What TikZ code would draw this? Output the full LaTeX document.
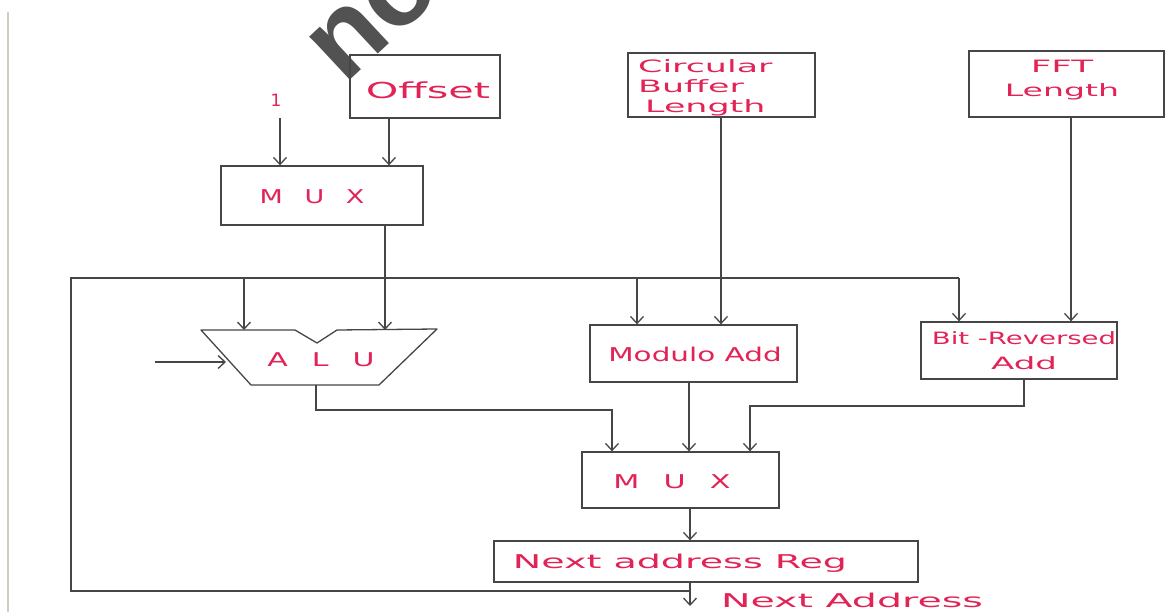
\documentclass[tikz,border=0pt]{standalone}
\usepackage{fontspec}
\setmainfont{DejaVu Sans}
\newfontfamily\wmfont{Liberation Sans}
\usetikzlibrary{arrows.meta}
\definecolor{ink}{RGB}{225,35,85}
\definecolor{pen}{RGB}{70,70,70}
\definecolor{pageedge}{RGB}{205,205,195}
\newcommand{\hs}[2]{\scalebox{#1}[1]{#2}}
\begin{document}
\begin{tikzpicture}[x=1pt,y=-1pt,
  box/.style={draw=pen, line width=1.3pt, inner sep=0pt},
  wire/.style={draw=pen, line width=1.3pt},
  arr/.style={wire, -{Straight Barb[length=7pt,width=13pt]}},
  lbl/.style={text=ink, font=\fontsize{19}{22}\selectfont, inner sep=0pt},
  slbl/.style={text=ink, font=\fontsize{17}{20}\selectfont, inner sep=0pt},
]
\useasboundingbox (0,0) rectangle (1165,612);
\fill[white] (0,0) rectangle (1165,612);
\draw[pageedge, line width=1.5pt] (8,12) -- (8,612);

% watermark fragment
\node[rotate=43, anchor=base west, text=black!68, inner sep=0pt,
      font=\wmfont\bfseries\fontsize{112}{112}\selectfont] (wm) at (344,86) {no};

% boxes
\node[box, minimum width=150pt, minimum height=63pt] (offset) at (425,86.5) {};
\node[lbl] (offsetlbl) at (428,90) {\fontsize{22}{24}\selectfont\hs{1.88}{Offset}};
\node[slbl] (one) at (276,100) {1};

\node[box, minimum width=187pt, minimum height=64pt] (cbl) at (721.5,85) {};
\node[slbl, align=left, anchor=west] (cbllbl) at (638,88) {\hs{2.05}{Circular}\\\hs{2.05}{Buffer}\\\hspace{7pt}\hs{2.05}{Length}};

\node[box, minimum width=195pt, minimum height=66pt] (fft) at (1066.5,84) {};
\node[slbl, align=center] (fftlbl) at (1062,80) {\hs{2.1}{FFT}\\[4pt]\hs{1.95}{Length}};

\node[box, minimum width=202pt, minimum height=59pt] (mux1) at (322,195.5) {};
\node[lbl] (mux1lbl) at (312,197) {\hs{1.42}{M\hspace{0.8em}U\hspace{0.8em}X}};

% ALU
\coordinate (aluTL) at (201,330);
\coordinate (aluTR) at (437,329);
\coordinate (aluBR) at (379,385);
\coordinate (aluBL) at (251,385);
\draw[wire, line join=round] (aluTL) -- (295,330) -- (317,343) -- (337,330) -- (aluTR) -- (aluBR) -- (aluBL) -- cycle;
\node[lbl] (alulbl) at (321,360) {\hs{1.58}{A\hspace{0.8em}L\hspace{0.8em}U}};

\node[box, minimum width=207pt, minimum height=57pt] (mod) at (693.5,353.5) {};
\node[lbl] (modlbl) at (695,354) {\hs{1.55}{Modulo Add}};

\node[box, minimum width=196pt, minimum height=57pt] (bra) at (1019,350.5) {};
\node[slbl, align=center] (bralbl) at (1024,351) {\hs{1.62}{Bit -Reversed}\\[5pt]\hs{2.0}{Add}};

\node[box, minimum width=197pt, minimum height=56pt] (mux2) at (680.5,480) {};
\node[lbl] (mux2lbl) at (672,482) {\hs{1.59}{M\hspace{0.8em}U\hspace{0.8em}X}};

\node[box, minimum width=424pt, minimum height=41pt] (nar) at (706,561.5) {};
\node[lbl] (narlbl) at (680,563) {\hs{2.0}{Next address Reg}};

\node[lbl] (outlbl) at (852,600) {\hs{2.08}{Next Address}};

% column coordinates
\coordinate (c1) at (280,0);
\coordinate (c2) at (389,0);
\coordinate (c3) at (385,0);
\coordinate (b1) at (244,0);
\coordinate (b2) at (637,0);
\coordinate (cx) at (721,0);
\coordinate (fx) at (1071,0);
\coordinate (m1) at (612,410);
\coordinate (m2) at (689,0);
\coordinate (m3) at (750,406);
\coordinate (m4) at (690,0);
\coordinate (braout) at (1024,0);
\coordinate (oneout) at (280,118);
\coordinate (aluin) at (155,362);
\coordinate (aluL) at (226,362);
\coordinate (aluout) at (316,385);
\coordinate (busL) at (71,278);
\coordinate (busR) at (959,278);
\coordinate (fbj) at (690,591);
\coordinate (naout) at (690,606);

% connectors
\draw[arr] (oneout) -- (oneout |- mux1.north);
\draw[arr] (offset.south -| c2) -- (c2 |- mux1.north);
\draw[arr] (mux1.south -| c3) -- (c3 |- aluTL);

\draw[wire] (fbj) -- (fbj -| busL) -- (busL) -- (busR);
\draw[arr] (busL -| b1) -- (b1 |- aluTL);
\draw[arr] (busL -| b2) -- (b2 |- mod.north);
\draw[arr] (busR) -- (busR |- bra.north);
\draw[arr] (cbl.south -| cx) -- (cx |- mod.north);
\draw[arr] (fft.south -| fx) -- (fx |- bra.north);
\draw[arr] (aluin) -- (aluL);

\draw[arr] (aluout) |- (m1) -- (m1 |- mux2.north);
\draw[arr] (mod.south -| m2) -- (m2 |- mux2.north);
\draw[arr] (bra.south -| braout) |- (m3) -- (m3 |- mux2.north);
\draw[arr] (mux2.south -| m4) -- (m4 |- nar.north);
\draw[arr] (nar.south -| m4) -- (naout);
\end{tikzpicture}
\end{document}
